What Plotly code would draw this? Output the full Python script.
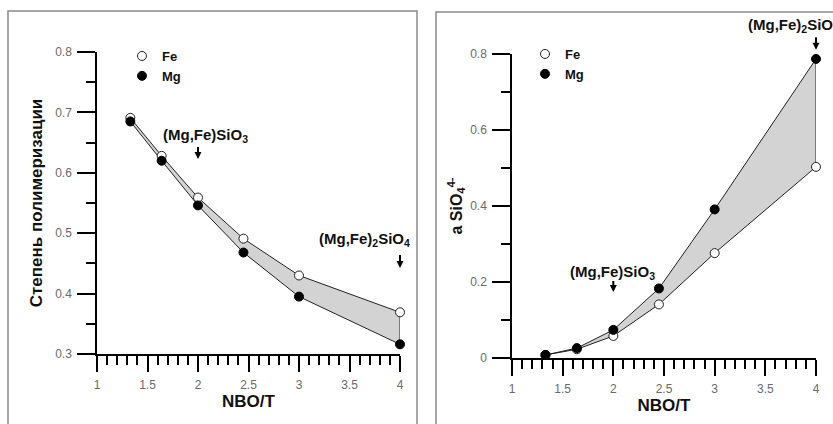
import plotly.graph_objects as go

# ---- data ----
nbo_t = [1.33, 1.64, 2.0, 2.45, 3.0, 4.0]
poly_fe = [0.691, 0.628, 0.559, 0.491, 0.430, 0.369]
poly_mg = [0.685, 0.620, 0.546, 0.468, 0.395, 0.316]
asio_fe = [0.008, 0.023, 0.058, 0.141, 0.276, 0.503]
asio_mg = [0.008, 0.026, 0.074, 0.183, 0.391, 0.787]
series_names = ["Fe", "Mg"]
x_ticks = [1, 1.5, 2, 2.5, 3, 3.5, 4]
x_ticklabels = ["1", "1.5", "2", "2.5", "3", "3.5", "4"]
left_yticks = [0.3, 0.4, 0.5, 0.6, 0.7, 0.8]
right_yticks = [0, 0.2, 0.4, 0.6, 0.8]
right_yticklabels = ["0", "0.2", "0.4", "0.6", "0.8"]

W, H = 833, 424
FONT = "Liberation Sans, Arial, sans-serif"
FILL = "#d3d3d3"
LINE = "#222222"
RIGHT_YMAX = 0.8

fig = go.Figure()


def add_panel(fe, mg, xa, ya, legend):
    # filled band between the two series, outlined
    fig.add_trace(go.Scatter(
        x=nbo_t + nbo_t[::-1], y=fe + mg[::-1], mode="lines",
        fill="toself", fillcolor=FILL, line=dict(color=LINE, width=1),
        xaxis=xa, yaxis=ya, showlegend=False, hoverinfo="skip"))
    fig.add_trace(go.Scatter(
        x=nbo_t, y=fe, mode="markers", name=series_names[0],
        marker=dict(symbol="circle", size=9, color="white",
                    line=dict(color=LINE, width=1)),
        xaxis=xa, yaxis=ya, legend=legend, cliponaxis=False))
    fig.add_trace(go.Scatter(
        x=nbo_t, y=mg, mode="markers", name=series_names[1],
        marker=dict(symbol="circle", size=9, color="black",
                    line=dict(color="black", width=1)),
        xaxis=xa, yaxis=ya, legend=legend, cliponaxis=False))


add_panel(poly_fe, poly_mg, "x", "y", "legend")
add_panel(asio_fe, asio_mg, "x2", "y2", "legend2")

tickfont = dict(family=FONT, size=12, color="#6a6a6a")
titlefont = dict(family=FONT, size=17, color="#111111", weight="bold")

xcommon = dict(
    range=[1, 4], tickvals=x_ticks, ticktext=x_ticklabels,
    ticks="outside", ticklen=16, tickwidth=1.5, tickcolor="black",
    showline=True, linecolor="black", linewidth=1.5,
    showgrid=False, zeroline=False, tickfont=tickfont,
    ticklabelstandoff=3, automargin=False,
    minor=dict(dtick=0.1, tick0=1, ticks="outside", ticklen=9,
               tickwidth=1.5, tickcolor="black"),
    title=dict(text="NBO/T", font=titlefont, standoff=0),
)
ycommon = dict(
    ticks="outside", ticklen=18, tickwidth=1.5, tickcolor="black",
    showline=True, linecolor="black", linewidth=1.5,
    showgrid=False, zeroline=False, tickfont=tickfont,
    ticklabelstandoff=3, automargin=False,
)


def px_x(p):
    return p / W


def px_y(p):
    return (H - p) / H


fig.update_layout(
    width=W, height=H,
    margin=dict(l=0, r=0, t=0, b=0, autoexpand=False),
    paper_bgcolor="white", plot_bgcolor="white",
    font=dict(family=FONT),
    xaxis=dict(domain=[px_x(97), px_x(400)], anchor="y", **xcommon),
    yaxis=dict(domain=[px_y(354), px_y(52)], anchor="x", range=[0.3, 0.8],
               tickvals=left_yticks,
               minor=dict(dtick=0.05, tick0=0.3, ticks="outside", ticklen=9,
                          tickwidth=1.5, tickcolor="black"),
               title=dict(text="Степень полимеризации",
                          font=dict(family=FONT, size=17, color="#111111",
                                    weight="bold"), standoff=8),
               **ycommon),
    xaxis2=dict(domain=[px_x(512), px_x(816)], anchor="y2", **xcommon),
    yaxis2=dict(domain=[px_y(358), px_y(54)], anchor="x2",
                range=[0, RIGHT_YMAX],
                tickvals=right_yticks, ticktext=right_yticklabels,
                minor=dict(dtick=0.1, tick0=0, ticks="outside", ticklen=9,
                           tickwidth=1.5, tickcolor="black"),
                title=dict(text="a SiO<sub>4</sub><sup>4-</sup>",
                           font=dict(family=FONT, size=16, color="#111111",
                                     weight="bold"), standoff=4),
                **ycommon),
    legend=dict(x=px_x(122), y=px_y(41), xanchor="left", yanchor="top",
                bgcolor="rgba(0,0,0,0)", tracegroupgap=0,
                font=dict(family=FONT, size=13, color="#111111", weight="bold")),
    legend2=dict(x=px_x(525), y=px_y(39), xanchor="left", yanchor="top",
                 bgcolor="rgba(0,0,0,0)", tracegroupgap=0,
                 font=dict(family=FONT, size=13, color="#111111", weight="bold")),
    showlegend=True,
)

# panel frames
fig.add_shape(type="rect", xref="paper", yref="paper",
              x0=px_x(8), x1=px_x(417), y0=-0.2, y1=px_y(11),
              line=dict(color="#8a8a8a", width=1.5), layer="below")
fig.add_shape(type="rect", xref="paper", yref="paper",
              x0=px_x(436), x1=1.2, y0=-0.2, y1=px_y(12),
              line=dict(color="#8a8a8a", width=1.5), layer="below")

afont = dict(family=FONT, size=15, color="#111111", weight="bold")
sio3 = "(Mg,Fe)SiO<sub>3</sub>"
sio4 = "(Mg,Fe)<sub>2</sub>SiO<sub>4</sub>"

# (xref, yref, x, y, text); right-top label lies above the axis range,
# so it is placed in the y2 domain (fraction of the axis height)
labels = [
    ("x", "y", 2.07, 0.661, sio3),
    ("x", "y", 3.65, 0.489, sio4),
    ("x2", "y2", 1.99, 0.226, sio3),
    ("x2", "y2 domain", 3.78, 0.876 / RIGHT_YMAX, sio4),
]
for xr, yr, xv, yv, t in labels:
    fig.add_annotation(xref=xr, yref=yr, x=xv, y=yv, text=t, showarrow=False,
                       font=afont, xanchor="center", yanchor="middle")

arrows = [
    ("x", "y", 2.0, 0.6228, 0.6444),
    ("x", "y", 4.0, 0.4424, 0.4656),
    ("x2", "y2", 2.0, 0.174, 0.205),
    ("x2", "y2 domain", 4.0, 0.811 / RIGHT_YMAX, 0.847 / RIGHT_YMAX),
]
for xr, yr, xv, tip, tail in arrows:
    fig.add_annotation(xref=xr, yref=yr, axref=xr, ayref=yr,
                       x=xv, y=tip, ax=xv, ay=tail, text=" ",
                       font=dict(size=1), borderpad=0,
                       showarrow=True, arrowhead=2, arrowsize=0.7,
                       arrowwidth=2, arrowcolor="black")

fig.write_html("out.html",
               config={"displayModeBar": False},
               post_script="document.body.style.margin='0';"
                           "document.body.style.padding='0';")
